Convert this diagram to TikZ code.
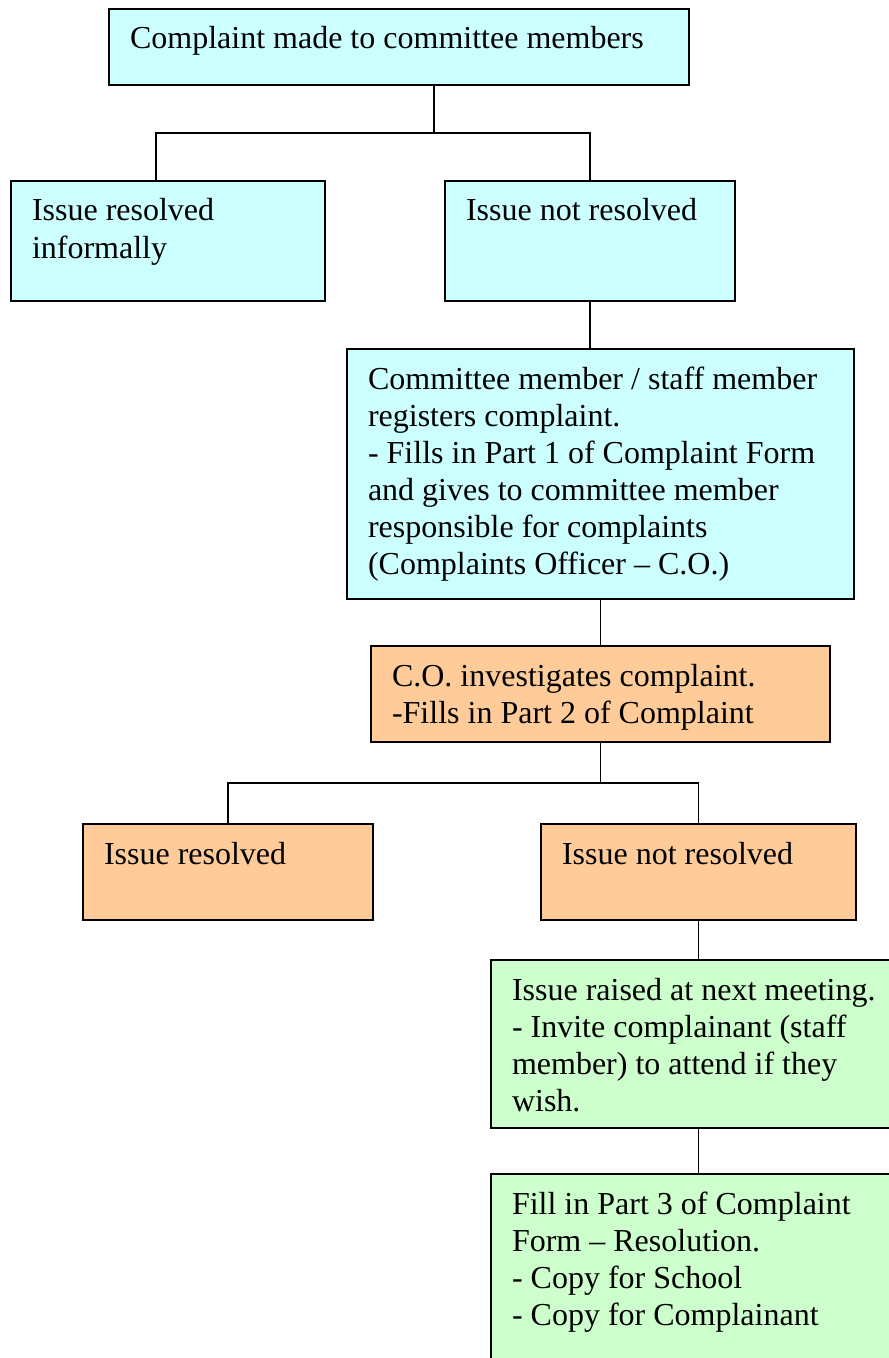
\documentclass[tikz,border=0pt]{standalone}
\usepackage{fontspec}
\setmainfont{Liberation Serif}
\usetikzlibrary{calc}
\newlength\px
\setlength\px{0.025cm}
\newcommand{\boxtxt}[3]{\parbox[c][#2\px][t]{\dimexpr#1\px-42\px\relax}{\raggedright\rule{0pt}{40\px}#3}}
\definecolor{palecyan}{HTML}{CCFFFF}
\definecolor{paleorange}{HTML}{FFCC99}
\definecolor{palegreen}{HTML}{CCFFCC}
\tikzset{
	flowbox/.style={draw, line width=0.05cm, anchor=north west, inner xsep=21\px, inner ysep=0pt, outer sep=0pt},
	link/.style={line width=0.035cm}
}

\begin{document}
\begin{tikzpicture}[x=0.025cm, y=-0.025cm, font=\fontsize{22.76}{26.32}\selectfont]
		%%%%% START %%%%%
		
		\useasboundingbox (0, 0) rectangle (888, 1358);
		
		\node[flowbox, fill=palecyan] (top) at (109, 9) {\boxtxt{580}{76}{Complaint made to committee members}};
		
		\node[flowbox, fill=palecyan] (inf) at (11, 181) {\boxtxt{314}{120}{Issue resolved\\informally}};
		\node[flowbox, fill=palecyan] (nres1) at (445, 181) {\boxtxt{290}{120}{Issue not resolved}};
		
		\node[flowbox, fill=palecyan] (reg) at (347, 349) {\boxtxt{507}{250}{Committee member / staff member\\registers complaint.\\- Fills in Part 1 of Complaint Form\\and gives to committee member\\responsible for complaints\\(Complaints Officer – C.O.)}};
		
		\node[flowbox, fill=paleorange] (inv) at (371, 646) {\boxtxt{459}{96}{C.O. investigates complaint.\\-Fills in Part 2 of Complaint}};
		
		\node[flowbox, fill=paleorange] (res2) at (83, 824) {\boxtxt{290}{96}{Issue resolved}};
		\node[flowbox, fill=paleorange] (nres2) at (541, 824) {\boxtxt{315}{96}{Issue not resolved}};
		
		\node[flowbox, fill=palegreen] (raise) at (491, 960) {\boxtxt{420}{168}{Issue raised at next meeting.\\- Invite complainant (staff\\member) to attend if they\\wish.}};
		
		\node[flowbox, fill=palegreen] (fill) at (491, 1174) {\boxtxt{420}{230}{Fill in Part 3 of Complaint\\Form – Resolution.\\- Copy for School\\- Copy for Complainant}};
		
		% connectors
		\coordinate (j1) at (434, 133);
		\coordinate (k1) at (156, 133);
		\draw[link] (j1 |- top.south) -- (j1);
		\draw[link] (k1 |- inf.north) -- (k1) -- (k1 -| nres1.north) -- (nres1.north);
		\draw[link] (nres1.south) -- (nres1.south |- reg.north);
		\draw[link] (reg.south) -- (inv.north);
		
		\coordinate (j2) at (inv.south |- 0, 783);
		\draw[link] (inv.south) -- (j2);
		\draw[link] (res2.north) -- (res2.north |- j2) -- (nres2.north |- j2) -- (nres2.north);
		\draw[link] (nres2.south) -- (nres2.south |- raise.north);
		\draw[link] (nres2.south |- raise.south) -- (nres2.south |- fill.north);
		
		%%%%% END %%%%%
\end{tikzpicture}
\end{document}
